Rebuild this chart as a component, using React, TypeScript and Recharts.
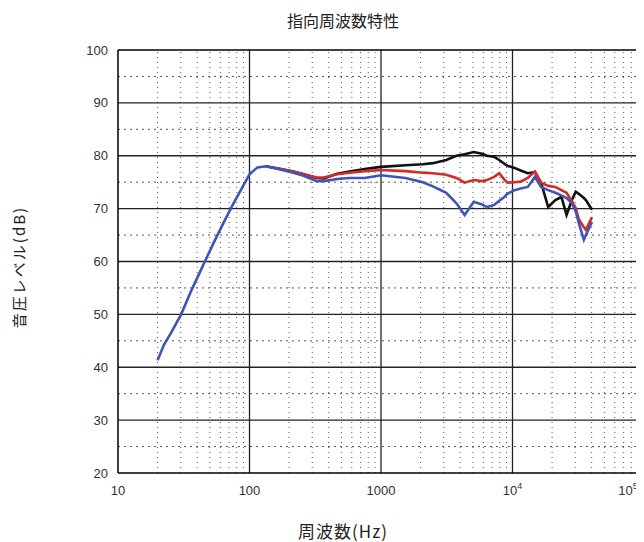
import React from "react";
import { LineChart, Line, XAxis, YAxis, ReferenceLine } from "recharts";

const freqs = [20, 22.3, 25.3, 30.2, 36.1, 44.8, 54.5, 64, 73.8, 88.2, 100, 115, 133, 165, 215, 258, 325, 368, 464, 575, 752, 1000, 1535, 2079, 2485, 3134, 3746, 4323, 5076, 5853, 6401, 7254, 7929, 8670, 9146, 10360, 11530, 13070, 14810, 16490, 18680, 21170, 23560, 25760, 28160, 30240, 31910, 34880, 36150, 40250];

const blueVals = [41.3, 44.2, 46.5, 50, 54.5, 59.5, 64, 67.5, 70.5, 74, 76.5, 77.8, 78, 77.5, 76.8, 76.2, 75.2, 75.2, 75.6, 75.8, 75.8, 76.3, 75.8, 75, 74.2, 73, 71, 68.8, 71.3, 70.8, 70.3, 70.7, 71.5, 72.2, 72.8, 73.5, 73.8, 74.1, 76, 74.1, 73.5, 73, 72.5, 72, 71.1, 69.5, 67.3, 64.1, 65, 67.5];

const blackVals = [null, null, null, null, null, null, null, null, null, null, null, null, 78, 77.6, 77, 76.5, 75.8, 75.7, 76.6, 77, 77.5, 77.9, 78.2, 78.4, 78.6, 79.2, 80, 80.3, 80.7, 80.4, 80, 79.8, 79.2, 78.5, 78.1, 77.7, 77.2, 76.7, 76.9, 74.9, 70.3, 71.6, 72.2, 68.8, 71.5, 73.2, 72.8, 72, 71.6, 69.8];

const redVals = [null, null, null, null, null, null, null, null, null, null, null, null, 78, 77.6, 77, 76.5, 75.9, 75.9, 76.5, 76.8, 77.1, 77.3, 77.1, 76.8, 76.7, 76.4, 75.8, 74.9, 75.4, 75.2, 75.4, 76, 76.7, 75.5, 74.9, 75, 75.1, 75.8, 77, 74.9, 74.3, 74.1, 73.5, 73, 71.5, 70.1, 68, 66.5, 66, 68.4];

const xTicks = [10, 100, 1000, 10000, 100000];
const xTickLabels: Record<number, [string, string]> = {
  10: ["10", ""],
  100: ["100", ""],
  1000: ["1000", ""],
  10000: ["10", "4"],
  100000: ["10", "5"],
};
const yTicks = [20, 30, 40, 50, 60, 70, 80, 90, 100];
const yMajor = [30, 40, 50, 60, 70, 80, 90];
const yMinor = [25, 35, 45, 55, 65, 75, 85, 95];
const xMajor = [100, 1000, 10000];
const xMinor: number[] = [];
[10, 100, 1000, 10000].forEach((d) => {
  for (let k = 2; k <= 9; k++) xMinor.push(d * k);
});

const data = freqs.map((f, i) => ({
  f,
  blue: blueVals[i],
  black: blackVals[i],
  red: redVals[i],
}));

const NUM_FONT = "'Liberation Sans', Arial, sans-serif";
const JP_FONT = "'Noto Sans CJK JP', sans-serif";

const XTick = (props: any) => {
  const { x, y, payload } = props;
  const lab = xTickLabels[payload.value] || [String(payload.value), ""];
  return (
    <text x={x} y={y + 14} textAnchor="middle" fontSize={13} fontFamily={NUM_FONT} fill="#333">
      {lab[0]}
      {lab[1] ? (
        <tspan fontSize={9} dy={-6}>
          {lab[1]}
        </tspan>
      ) : null}
    </text>
  );
};

export default function App() {
  return (
    <div style={{ position: "relative", width: 644, height: 542 }}>
      <LineChart
        width={644}
        height={542}
        data={data}
        margin={{ top: 42, right: 8, bottom: 47, left: 50 }}
      >
        <XAxis
          dataKey="f"
          type="number"
          scale="log"
          domain={[10, 100000]}
          ticks={xTicks}
          allowDataOverflow
          axisLine={{ stroke: "#000", strokeWidth: 1.5 }}
          tickLine={false}
          tick={<XTick />}
          height={30}
        />
        <YAxis
          type="number"
          domain={[20, 100]}
          ticks={yTicks}
          axisLine={{ stroke: "#000", strokeWidth: 1.5 }}
          tickLine={false}
          tickMargin={4}
          tick={{ fontSize: 13, fontFamily: NUM_FONT, fill: "#333" }}
          width={60}
        />
        {yMinor.map((v) => (
          <ReferenceLine key={"ym" + v} y={v} stroke="#555" strokeWidth={1} strokeDasharray="2 4" />
        ))}
        {xMinor.map((v) => (
          <ReferenceLine key={"xm" + v} x={v} stroke="#555" strokeWidth={1} strokeDasharray="1 4" />
        ))}
        {yMajor.map((v) => (
          <ReferenceLine key={"yM" + v} y={v} stroke="#222" strokeWidth={1.3} />
        ))}
        {xMajor.map((v) => (
          <ReferenceLine key={"xM" + v} x={v} stroke="#222" strokeWidth={1.3} />
        ))}
        <ReferenceLine y={100} stroke="#000" strokeWidth={1.5} />
        <ReferenceLine x={100000} stroke="#000" strokeWidth={1.5} />
        <Line dataKey="black" stroke="#111" strokeWidth={2.6} dot={false} isAnimationActive={false} type="linear" />
        <Line dataKey="red" stroke="#d42a2a" strokeWidth={2.6} dot={false} isAnimationActive={false} type="linear" />
        <Line dataKey="blue" stroke="#3d56b5" strokeWidth={2.6} dot={false} isAnimationActive={false} type="linear" />
        <text x={335} y={12} textAnchor="middle" dominantBaseline="central" fontSize={16} fontFamily={JP_FONT} fill="#222">
          指向周波数特性
        </text>
        <text x={335} y={522} textAnchor="middle" dominantBaseline="central" fontSize={17} letterSpacing={1} fontFamily={JP_FONT} fill="#222">
          周波数(Hz)
        </text>
        <text
          x={10}
          y={259}
          textAnchor="middle"
          dominantBaseline="central"
          fontSize={15}
          letterSpacing={2}
          fontFamily={JP_FONT}
          fill="#222"
          transform="rotate(-90 10 259)"
        >
          音圧レベル(dB)
        </text>
      </LineChart>
    </div>
  );
}
